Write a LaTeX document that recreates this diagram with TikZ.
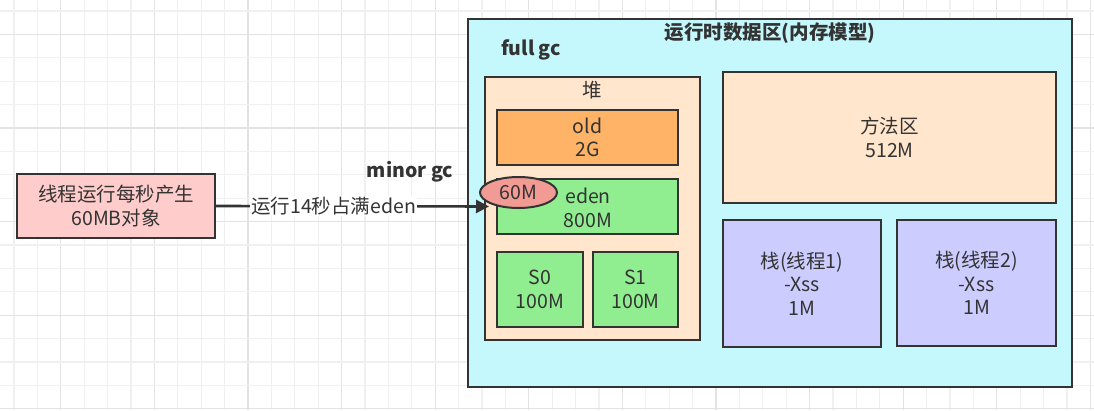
\documentclass[tikz,border=0pt]{standalone}
\usepackage{fontspec}
\setmainfont{Noto Sans CJK SC}
\usetikzlibrary{arrows.meta,shapes.geometric}
\definecolor{ink}{HTML}{333333}
\definecolor{cyanbg}{HTML}{C4F8FC}
\definecolor{peach}{HTML}{FFE6CC}
\definecolor{orangebox}{HTML}{FFB366}
\definecolor{greenbox}{HTML}{90EE90}
\definecolor{lilac}{HTML}{CCCCFF}
\definecolor{pinkbox}{HTML}{FFCCCC}
\definecolor{coral}{HTML}{F29B94}
\definecolor{gridminor}{HTML}{F0F0F0}
\definecolor{gridmajor}{HTML}{E3E3E3}
\tikzset{
  box/.style={draw=ink, line width=2pt, rectangle, inner sep=0pt, align=center,
    text=ink, font=\fontsize{19.5}{23.5}\selectfont},
  outerbox/.style={box, line width=2.6pt},
  lbl/.style={text=ink, inner sep=0pt, font=\fontsize{19.5}{23.5}\selectfont},
  blbl/.style={text=ink, inner sep=0pt, font=\bfseries\fontsize{19.5}{23.5}\selectfont},
  conn/.style={draw=ink, line width=2.6pt, -{Triangle[length=13pt,width=13pt]}},
}
\begin{document}
\begin{tikzpicture}[x=1pt,y=-1pt]
\useasboundingbox (0,0) rectangle (1094,410);
\fill[white] (0,0) rectangle (1094,410);
% grid
\foreach \k in {0,...,46}{
  \pgfmathtruncatemacro{\m}{mod(\k+2,4)}
  \ifnum\m=0
    \draw[gridmajor, line width=1.2pt] ({14+23.4*\k},0) -- ({14+23.4*\k},410);
  \else
    \draw[gridminor, line width=1.2pt] ({14+23.4*\k},0) -- ({14+23.4*\k},410);
  \fi
}
\foreach \k in {0,...,17}{
  \pgfmathtruncatemacro{\m}{mod(\k+3,4)}
  \ifnum\m=0
    \draw[gridmajor, line width=1.2pt] (0,{11+23.4*\k}) -- (1094,{11+23.4*\k});
  \else
    \draw[gridminor, line width=1.2pt] (0,{11+23.4*\k}) -- (1094,{11+23.4*\k});
  \fi
}
% container
\node[outerbox, fill=cyanbg, minimum width=604, minimum height=368] (rt) at (770,203) {};
\node[blbl] (title) at (770,33) {运行时数据区(内存模型)};
\node[blbl] (fullgc) at (531,50) {full gc};
% heap
\node[box, fill=peach, minimum width=215, minimum height=263] (heap) at (592.5,208.5) {};
\node[lbl] (heaplbl) at (592.5,90) {堆};
\node[box, fill=orangebox, minimum width=181, minimum height=55] (old) at (587.5,137.5) {old\\2G};
\node[box, fill=greenbox, minimum width=181, minimum height=55] (eden) at (587.5,206.5) {};
\node[lbl, align=center] (edenlbl) at (588,208) {eden\\800M};
\node[box, fill=greenbox, minimum width=86, minimum height=75] (s0) at (540,289.5) {S0\\100M};
\node[box, fill=greenbox, minimum width=85, minimum height=75] (s1) at (635.5,289.5) {S1\\100M};
% method area and stacks
\node[box, fill=peach, minimum width=333, minimum height=131] (method) at (889.5,137.5) {方法区\\512M};
\node[box, fill=lilac, minimum width=158, minimum height=127] (stack1) at (802,283.5) {栈(线程1)\\-Xss\\1M};
\node[box, fill=lilac, minimum width=159, minimum height=126] (stack2) at (976.5,283) {栈(线程2)\\-Xss\\1M};
% source
\node[box, fill=pinkbox, minimum width=198, minimum height=64] (src) at (116,206) {线程运行每秒产生\\60MB对象};
\node[blbl] (minorgc) at (410,172) {minor gc};
% connector
\draw[conn, shorten >=7pt] (src.east) -- (eden.west)
  node[pos=0.42, fill=white, lbl, inner sep=1pt] (conlbl) {运行14秒占满eden};
% 60M ellipse
\node[ellipse, draw=ink, line width=2pt, fill=coral, minimum width=77, minimum height=31, inner sep=0pt, text=ink, font=\fontsize{19.5}{23.5}\selectfont] (m60) at (518.5,192.5) {60M};
\end{tikzpicture}
\end{document}
